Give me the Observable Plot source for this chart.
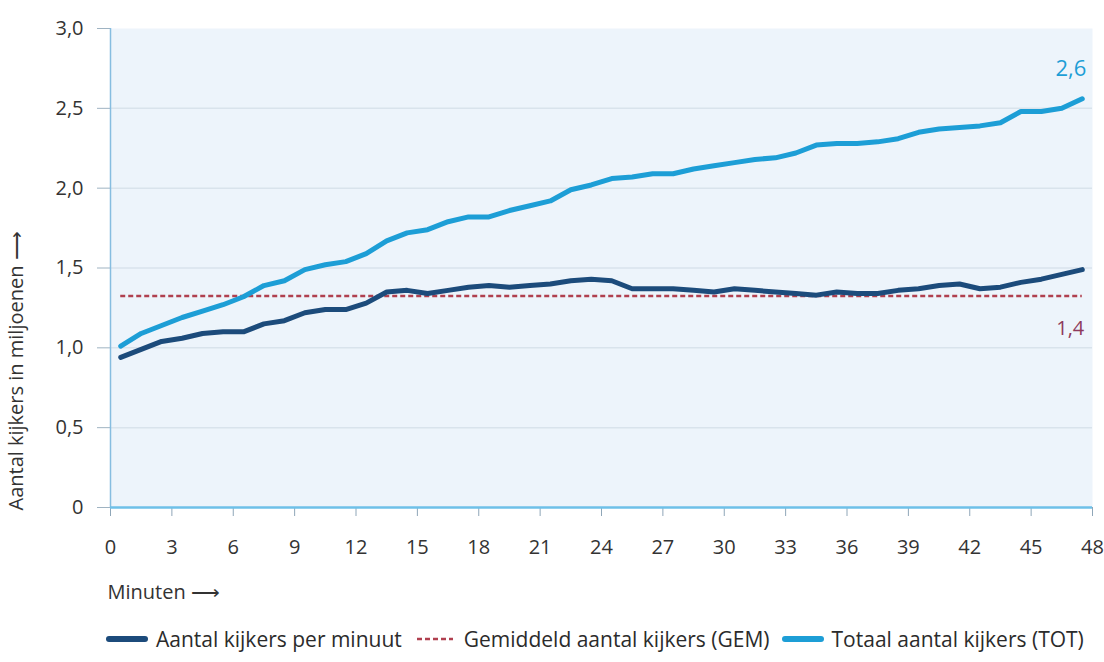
<!DOCTYPE html>
<html>
<head>
<meta charset="utf-8">
<script src="https://cdn.jsdelivr.net/npm/d3@7"></script>
<script src="https://cdn.jsdelivr.net/npm/@observablehq/plot@0.6"></script>
<style>
  html, body { margin: 0; padding: 0; background: #fff; }
  body { width: 1104px; height: 662px; overflow: hidden; font-family: "Open Sans", sans-serif; color: #333; }
  #legend { display: flex; align-items: center; margin-top: 10px; padding-left: 106px; font-size: 21px; color: #2b2b2b; white-space: nowrap; }
  #legend .item { display: flex; align-items: center; margin-right: 12px; }
  #legend svg { margin-right: 8px; }
</style>
</head>
<body>
<div id="chart"></div>
<div id="legend"></div>
<script>
// ---- data ----
const minutes = [0.5, 1.5, 2.5, 3.5, 4.5, 5.5, 6.5, 7.5, 8.5, 9.5, 10.5, 11.5, 12.5, 13.5, 14.5, 15.5,
  16.5, 17.5, 18.5, 19.5, 20.5, 21.5, 22.5, 23.5, 24.5, 25.5, 26.5, 27.5, 28.5, 29.5, 30.5, 31.5,
  32.5, 33.5, 34.5, 35.5, 36.5, 37.5, 38.5, 39.5, 40.5, 41.5, 42.5, 43.5, 44.5, 45.5, 46.5, 47.5];
const perMinute = [0.94, 0.99, 1.04, 1.06, 1.09, 1.10, 1.10, 1.15, 1.17, 1.22, 1.24, 1.24, 1.28, 1.35, 1.36, 1.34,
  1.36, 1.38, 1.39, 1.38, 1.39, 1.40, 1.42, 1.43, 1.42, 1.37, 1.37, 1.37, 1.36, 1.35, 1.37, 1.36,
  1.35, 1.34, 1.33, 1.35, 1.34, 1.34, 1.36, 1.37, 1.39, 1.40, 1.37, 1.38, 1.41, 1.43, 1.46, 1.49];
const total = [1.01, 1.09, 1.14, 1.19, 1.23, 1.27, 1.32, 1.39, 1.42, 1.49, 1.52, 1.54, 1.59, 1.67, 1.72, 1.74,
  1.79, 1.82, 1.82, 1.86, 1.89, 1.92, 1.99, 2.02, 2.06, 2.07, 2.09, 2.09, 2.12, 2.14, 2.16, 2.18,
  2.19, 2.22, 2.27, 2.28, 2.28, 2.29, 2.31, 2.35, 2.37, 2.38, 2.39, 2.41, 2.48, 2.48, 2.50, 2.56];
const average = 1.325;
const averageLabel = "1,4";
const totalLabel = "2,6";
const xTicks = [0, 3, 6, 9, 12, 15, 18, 21, 24, 27, 30, 33, 36, 39, 42, 45, 48];
const yTicks = [0, 0.5, 1.0, 1.5, 2.0, 2.5, 3.0];
const yGrid = [0.5, 1.0, 1.5, 2.0, 2.5];
const seriesNames = ["Aantal kijkers per minuut", "Gemiddeld aantal kijkers (GEM)", "Totaal aantal kijkers (TOT)"];
const xTitle = "Minuten ⟶";
const yTitle = "Aantal kijkers in miljoenen ⟶";

// ---- styling ----
const C_DARK = "#1c4b7b";
const C_LIGHT = "#1d9ed6";
const C_AVG = "#b0404f";
const C_AVG_TEXT = "#8e3a5c";

const perMinuteData = minutes.map((m, i) => ({m, v: perMinute[i]}));
const totalData = minutes.map((m, i) => ({m, v: total[i]}));
const avgData = [{v: average, a: minutes[0], b: minutes[minutes.length - 1]}];
const fmt = d => d === 0 ? "0" : d.toFixed(1).replace(".", ",");

const chart = Plot.plot({
  width: 1104,
  height: 615,
  marginLeft: 110,
  marginRight: 12,
  marginTop: 28,
  marginBottom: 108,
  style: {fontFamily: "'Open Sans', sans-serif", fontSize: "20px", color: "#333", background: "#fff"},
  x: {domain: [0, 48]},
  y: {domain: [0, 3]},
  marks: [
    Plot.frame({fill: "#edf4fb", stroke: null}),
    Plot.ruleY(yGrid, {stroke: "#d9e3ec", strokeWidth: 1.5}),
    Plot.axisY({ticks: yTicks, tickFormat: fmt, tickSize: 13, tickPadding: 14, label: null, stroke: "#9fb3c2", fontSize: 20}),
    Plot.axisX({ticks: xTicks, tickSize: 9, tickPadding: 23, label: null, stroke: "#8fa6b8", fontSize: 20}),
    Plot.ruleX([0], {stroke: "#86bde0", strokeWidth: 1.5}),
    Plot.ruleY([0], {stroke: "#6ec0e8", strokeWidth: 2.5}),
    Plot.ruleY(avgData, {y: "v", x1: "a", x2: "b", stroke: C_AVG, strokeWidth: 2.5, strokeDasharray: "5,3"}),
    Plot.line(totalData, {x: "m", y: "v", stroke: C_LIGHT, strokeWidth: 5, strokeLinecap: "round", strokeLinejoin: "round"}),
    Plot.line(perMinuteData, {x: "m", y: "v", stroke: C_DARK, strokeWidth: 5, strokeLinecap: "round", strokeLinejoin: "round"}),
    Plot.text([{m: minutes[minutes.length - 1], v: total[total.length - 1], t: totalLabel}],
      {x: "m", y: "v", text: "t", textAnchor: "end", dx: 4, dy: -30, fill: C_LIGHT, fontSize: 22}),
    Plot.text([{m: minutes[minutes.length - 1], v: average, t: averageLabel}],
      {x: "m", y: "v", text: "t", textAnchor: "end", dx: 2, dy: 33, fill: C_AVG_TEXT, fontSize: 20}),
    Plot.text([xTitle], {frameAnchor: "bottom-left", textAnchor: "start", dx: -3, dy: 91, fill: "#333", fontSize: 20}),
    Plot.text([yTitle], {frameAnchor: "bottom-left", textAnchor: "start", rotate: -90, dx: -88, dy: 3, fill: "#333", fontSize: 20})
  ]
});
document.getElementById("chart").appendChild(chart);

// ---- legend ----
const legend = document.getElementById("legend");
const swatches = [
  {color: C_DARK, dash: null, width: 6},
  {color: C_AVG, dash: "5,3", width: 2.5},
  {color: C_LIGHT, dash: null, width: 6}
];
seriesNames.forEach((name, i) => {
  const s = swatches[i];
  const item = document.createElement("div");
  item.className = "item";
  item.innerHTML = `<svg width="42" height="12"><line x1="3" y1="6" x2="39" y2="6" stroke="${s.color}" stroke-width="${s.width}" stroke-linecap="${s.dash ? "butt" : "round"}" ${s.dash ? `stroke-dasharray="${s.dash}"` : ""}/></svg><span>${name}</span>`;
  legend.appendChild(item);
});
</script>
</body>
</html>
